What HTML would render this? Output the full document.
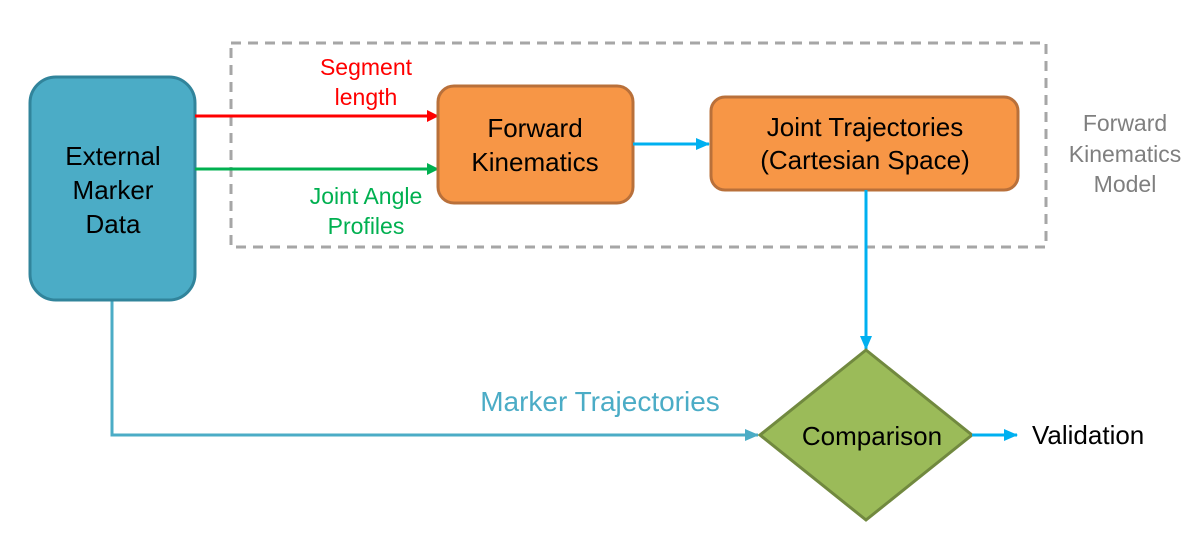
<!DOCTYPE html>
<html><head><meta charset="utf-8"><style>html,body{margin:0;padding:0;background:#fff}svg{display:block}text{font-family:"Liberation Sans",sans-serif}</style></head><body>
<svg width="1197" height="540" viewBox="0 0 1197 540" xmlns="http://www.w3.org/2000/svg">
<defs>
<marker id="ar" markerWidth="12" markerHeight="12" refX="11" refY="6" orient="auto" markerUnits="userSpaceOnUse"><path d="M0,0 L12,6 L0,12 z" fill="#FF0000"/></marker>
<marker id="ag" markerWidth="12" markerHeight="12" refX="11" refY="6" orient="auto" markerUnits="userSpaceOnUse"><path d="M0,0 L12,6 L0,12 z" fill="#00B050"/></marker>
<marker id="ab" markerWidth="14" markerHeight="12" refX="13" refY="6" orient="auto" markerUnits="userSpaceOnUse"><path d="M0,0 L14,6 L0,12 z" fill="#00B0F0"/></marker>
<marker id="at" markerWidth="14" markerHeight="12" refX="13" refY="6" orient="auto" markerUnits="userSpaceOnUse"><path d="M0,0 L14,6 L0,12 z" fill="#4BACC6"/></marker>
</defs>
<rect x="231" y="43" width="815" height="204" fill="none" stroke="#A6A6A6" stroke-width="3" stroke-dasharray="10,7"/>
<polyline points="112,300 112,435 758,435" fill="none" stroke="#4BACC6" stroke-width="3" marker-end="url(#at)"/>
<rect x="30" y="77" width="165" height="223" rx="26" fill="#4BACC6" stroke="#31849B" stroke-width="3"/>
<line x1="195" y1="116" x2="438" y2="116" stroke="#FF0000" stroke-width="3" marker-end="url(#ar)"/>
<line x1="195" y1="169" x2="438" y2="169" stroke="#00B050" stroke-width="3" marker-end="url(#ag)"/>
<rect x="438" y="86" width="195" height="117" rx="16" fill="#F79646" stroke="#B9703A" stroke-width="3"/>
<line x1="633" y1="144" x2="709" y2="144" stroke="#00B0F0" stroke-width="3" marker-end="url(#ab)"/>
<rect x="711" y="97" width="307" height="93" rx="14" fill="#F79646" stroke="#B9703A" stroke-width="3"/>
<line x1="866" y1="190" x2="866" y2="349" stroke="#00B0F0" stroke-width="3" marker-end="url(#ab)"/>
<polygon points="866,350 972,435 866,520 760,435" fill="#9BBB59" stroke="#71893F" stroke-width="3"/>
<line x1="972" y1="435" x2="1017" y2="435" stroke="#00B0F0" stroke-width="3" marker-end="url(#ab)"/>
<g font-size="26" fill="#000" text-anchor="middle">
<text x="113" y="165">External</text><text x="113" y="199">Marker</text><text x="113" y="233">Data</text>
<text x="535" y="137">Forward</text><text x="535" y="171">Kinematics</text>
<text x="865" y="136">Joint Trajectories</text><text x="865" y="169">(Cartesian Space)</text>
<text x="872" y="445">Comparison</text>
</g>
<text x="1032" y="444" font-size="26" fill="#000">Validation</text>
<g font-size="23" text-anchor="middle">
<text x="366" y="75" fill="#FF0000">Segment</text><text x="366" y="105" fill="#FF0000">length</text>
<text x="366" y="204" fill="#00B050">Joint Angle</text><text x="366" y="234" fill="#00B050">Profiles</text>
<text x="1125" y="131" fill="#7F7F7F">Forward</text><text x="1125" y="162" fill="#7F7F7F">Kinematics</text><text x="1125" y="192" fill="#7F7F7F">Model</text>
</g>
<text x="600" y="411" font-size="28" fill="#4BACC6" text-anchor="middle">Marker Trajectories</text>
</svg>
</body></html>
